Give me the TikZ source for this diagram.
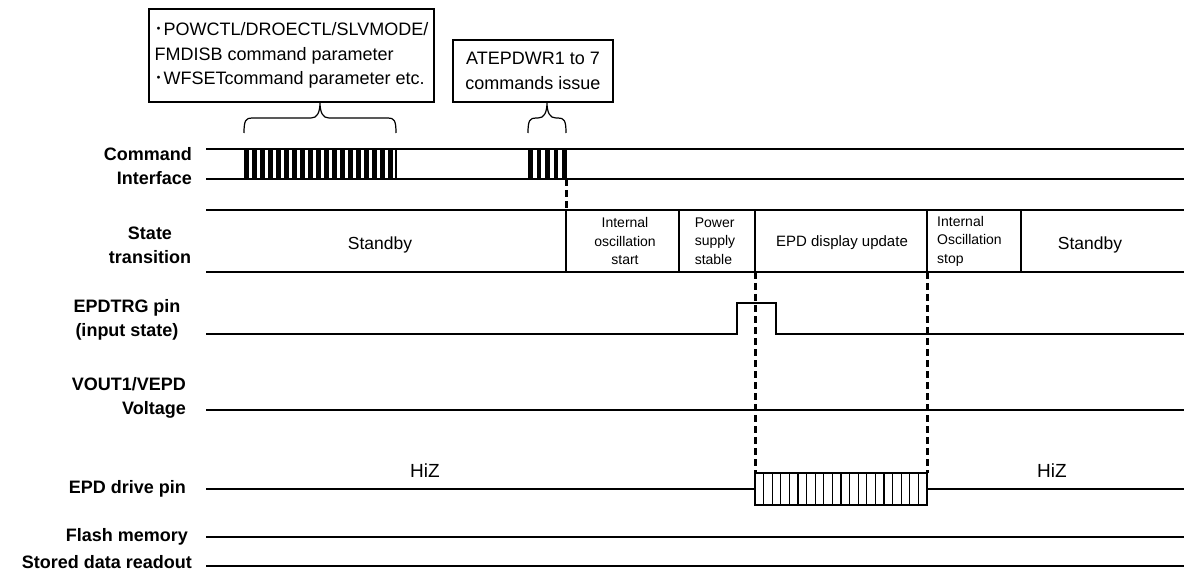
\documentclass[tikz,border=0pt]{standalone}
\usepackage{fontspec}
\setmainfont{Liberation Sans}
\newfontfamily\cjk{Noto Sans CJK JP}

\tikzset{
  sig/.style={line width=1.4pt},
  lbl/.style={font=\fontsize{18}{24}\selectfont\bfseries, inner sep=0pt},
  cmdbox/.style={draw, line width=1.4pt, font=\fontsize{18}{24.5}\selectfont, inner sep=0pt},
  stxt/.style={font=\fontsize{14}{18.5}\selectfont, inner sep=0pt},
  mtxt/.style={font=\fontsize{17.5}{20}\selectfont, inner sep=0pt},
  guide/.style={line width=3pt, dash pattern=on 7pt off 4pt},
  stripe/.style={line width=1.2pt},
  bracemark/.style={line width=1.2pt},
}
% brace: left x, right x, foot y, tip x
\newcommand{\cmdbrace}[4]{%
  \draw[bracemark] (#1,#3) .. controls (#1,{#3-13}) and ({#1+2},{#3-15}) .. ({#1+8},{#3-15})
    -- ({#4-9},{#3-15}) .. controls ({#4-3},{#3-15}) and (#4,{#3-20}) .. (#4,{#3-31})
    .. controls (#4,{#3-20}) and ({#4+3},{#3-15}) .. ({#4+9},{#3-15})
    -- ({#2-8},{#3-15}) .. controls ({#2-2},{#3-15}) and (#2,{#3-13}) .. (#2,#3);}

\begin{document}
\begin{tikzpicture}[x=1pt, y=-1pt]
    \useasboundingbox (0,0) rectangle (1184,572);

    % Command boxes and braces
    \node[cmdbox, minimum width=285pt, minimum height=93pt, align=left] (setbox) at (291.5,55.5)
        {{\cjk ･}POWCTL/DROECTL/SLVMODE/\\FMDISB command parameter\\{\cjk ･}WFSETcommand parameter etc.};
    \node[cmdbox, minimum width=160pt, minimum height=62pt, align=center] (issuebox) at (533,71)
        {ATEPDWR1 to 7\\commands issue};
    \cmdbrace{244}{396}{133}{320}
    \cmdbrace{528}{566}{133}{547}

    % Signal names
    \node[lbl, align=right, anchor=east] (cmdlbl) at (192,166) {Command\\Interface};
    \node[lbl, align=center] (statelbl) at (150,245) {State\\transition};
    \node[lbl, align=center] (trglbl) at (127,320) {EPDTRG pin\\(input state)};
    \node[lbl, align=right, anchor=east] (voutlbl) at (186,398) {VOUT1/VEPD\\Voltage};
    \node[lbl, anchor=east] (drvlbl) at (186,489) {EPD drive pin};
    \node[lbl, anchor=east] (flashlbl) at (188,537) {Flash memory};
    \node[lbl, anchor=east] (readlbl) at (192,562) {Stored data readout};

    % Base lines
    \foreach \y in {149,179,210,272,410,537,566}
        \draw[sig] (206,\y) -- (1184,\y);

    % Command interface bursts
    \foreach \k in {0,...,18}
        \fill ({244+\k*8},149) rectangle ({248.5+\k*8},179);
    \draw[sig] (396,149) -- (396,179);
    \foreach \x in {528,536.5,545,553.5,562}
        \fill (\x,149) rectangle ({\x+4.5},179);

    % State transition
    \foreach \x in {566,679,755,927,1021}
        \draw[sig] (\x,210) -- (\x,272);
    \node[mtxt] (stby1) at (380,245) {Standby};
    \node[stxt, align=center] (oscstart) at (625,241) {Internal\\oscillation\\start};
    \node[stxt, align=left] (pwrstable) at (715,241) {Power\\supply\\stable};
    \node[font=\fontsize{15}{18}\selectfont, inner sep=0pt] (update) at (842,243) {EPD display update};
    \node[stxt, align=left, anchor=west] (oscstop) at (937,241) {Internal\\Oscillation\\stop};
    \node[mtxt] (stby2) at (1090,245) {Standby};

    % EPDTRG pulse
    \draw[sig] (206,334) -- (737,334) -- (737,303) -- (776,303) -- (776,334) -- (1184,334);

    % EPD drive pin
    \draw[sig] (206,489) -- (755,489);
    \draw[sig] (927,489) -- (1184,489);
    \draw[sig] (755,473) rectangle (927,505);
    \foreach \k in {1,...,19}
        \draw[stripe] ({755+\k*8.6},473) -- ({755+\k*8.6},505);
    \node[font=\fontsize{19}{22}\selectfont, inner sep=0pt] (hiz1) at (425,471) {HiZ};
    \node[font=\fontsize{19}{22}\selectfont, inner sep=0pt] (hiz2) at (1052,471) {HiZ};

    % Timing guides
    \draw[guide] (566,179) -- (566,210);
    \draw[guide] (755,272) -- (755,473);
    \draw[guide] (927,272) -- (927,473);
\end{tikzpicture}
\end{document}
